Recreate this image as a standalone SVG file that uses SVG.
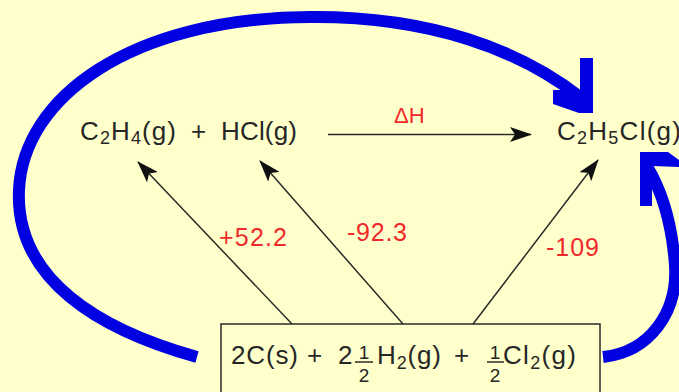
<svg xmlns="http://www.w3.org/2000/svg" width="679" height="392" viewBox="0 0 679 392">
<style>
.t{font-family:"Liberation Sans",Arial,sans-serif;font-size:26px;fill:#262626}
.fr{font-family:"Liberation Sans",Arial,sans-serif;font-size:19px;fill:#262626;text-anchor:middle}
.r{font-family:"Liberation Sans",Arial,sans-serif;font-size:25px;fill:#ee2a2a}
.thin{fill:none;stroke:#2a2a2a;stroke-width:1.5}
.blue{fill:none;stroke:#0000e0;stroke-width:12}
.bh{fill:#0000e0}
</style>
<defs>
<marker id="ah" viewBox="0 0 22 15" refX="21" refY="7.5" markerWidth="22" markerHeight="15" markerUnits="userSpaceOnUse" orient="auto">
<path d="M0,0 L22,7.5 L0,15 L5,7.5 Z" fill="#111"/>
</marker>
</defs>
<rect width="679" height="392" fill="#ffffcc"/>
<g id="connectors">
<path class="blue" d="M197,357 C100,330 15,280 19,190 C23,98 130,18 310,17 C430,16 520,50 580,97"/>
<polygon class="bh" points="580,58 593,58 593,113 579,113 553,104 553,90 580,90"/>
<path class="blue" d="M603,357 C650,352 678,312 675,265 C672,225 664,195 648,168"/>
<polygon class="bh" points="640,152 668,152 679,160 679,167 652,166 652,206 640,206"/>
<line class="thin" x1="328" y1="134.5" x2="531" y2="134.5" marker-end="url(#ah)"/>
<line class="thin" x1="292" y1="324" x2="138" y2="162" marker-end="url(#ah)"/>
<line class="thin" x1="403" y1="324" x2="260" y2="161" marker-end="url(#ah)"/>
<line class="thin" x1="473" y1="324" x2="598" y2="160" marker-end="url(#ah)"/>
<text class="r" x="394" y="123" style="font-size:22px">ΔH</text>
<text class="r" x="219" y="246" textLength="68" lengthAdjust="spacing">+52.2</text>
<text class="r" x="347" y="241" textLength="60" lengthAdjust="spacing">-92.3</text>
<text class="r" x="546" y="256" textLength="53" lengthAdjust="spacing">-109</text>
</g>
<g id="reactants">
<text class="t" x="80" y="140" textLength="96" lengthAdjust="spacing">C<tspan font-size="18" dy="4">2</tspan><tspan dy="-4">H</tspan><tspan font-size="18" dy="4">4</tspan><tspan dy="-4">(g)</tspan></text>
<text class="t" x="191" y="140">+</text>
<text class="t" x="221" y="140" textLength="76" lengthAdjust="spacing">HCl(g)</text>
</g>
<g id="product">
<text class="t" x="557" y="140" textLength="124" lengthAdjust="spacing">C<tspan font-size="18" dy="4">2</tspan><tspan dy="-4">H</tspan><tspan font-size="18" dy="4">5</tspan><tspan dy="-4">Cl(g)</tspan></text>
</g>
<g id="elements">
<rect x="221" y="324" width="379" height="80" fill="none" stroke="#2a2a2a" stroke-width="1.5"/>
<text class="t" x="231" y="364" textLength="67" lengthAdjust="spacing">2C(s)</text>
<text class="t" x="307" y="364">+</text>
<text class="t" x="338" y="364">2</text>
<text class="fr" x="364" y="359">1</text>
<line x1="355" y1="362" x2="373" y2="362" stroke="#2a2a2a" stroke-width="1.5"/>
<text class="fr" x="364" y="382">2</text>
<text class="t" x="377" y="364" textLength="64" lengthAdjust="spacing">H<tspan font-size="18" dy="5">2</tspan><tspan dy="-5">(g)</tspan></text>
<text class="t" x="454" y="364">+</text>
<text class="fr" x="495" y="359">1</text>
<line x1="487" y1="362" x2="504" y2="362" stroke="#2a2a2a" stroke-width="1.5"/>
<text class="fr" x="495" y="382">2</text>
<text class="t" x="503" y="364" textLength="73" lengthAdjust="spacing">Cl<tspan font-size="18" dy="5">2</tspan><tspan dy="-5">(g)</tspan></text>
</g>
</svg>
